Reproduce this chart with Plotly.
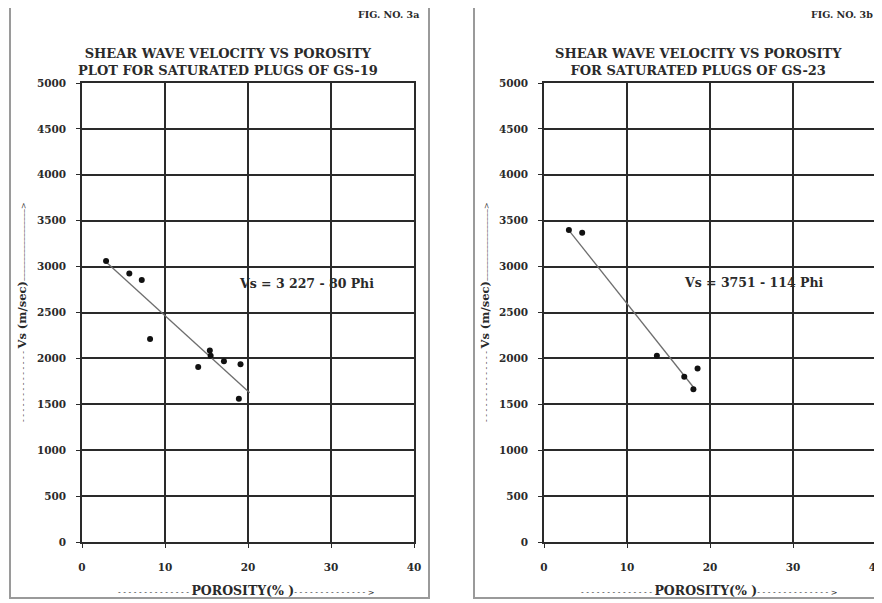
import plotly.graph_objects as go

# ---- data ----
phi_gs19 = [2.9, 5.7, 7.2, 8.2, 14.0, 15.4, 15.5, 17.1, 19.1, 18.9]
vs_gs19 = [3060, 2925, 2855, 2210, 1905, 2085, 2030, 1970, 1935, 1560]
fit19_phi = [2.9, 20.2]
fit19_vs = [3050, 1625]

phi_gs23 = [3.0, 4.6, 13.6, 16.9, 18.0, 18.5]
vs_gs23 = [3400, 3370, 2030, 1800, 1665, 1890]
fit23_phi = [3.0, 18.1]
fit23_vs = [3395, 1675]

x_ticks = [0, 10, 20, 30, 40]
y_ticks = [0, 500, 1000, 1500, 2000, 2500, 3000, 3500, 4000, 4500, 5000]

titles = ["SHEAR WAVE VELOCITY VS POROSITY<br>PLOT FOR SATURATED PLUGS OF GS-19",
          "SHEAR WAVE VELOCITY VS POROSITY<br>FOR SATURATED PLUGS OF GS-23"]
fig_labels = ["FIG. NO. 3a", "FIG. NO. 3b"]
equations = ["Vs = 3 227 - 80 Phi", "Vs = 3751 - 114 Phi"]

OFF = 8  # page body margin
W, H = 882 - OFF, 603 - OFF
FONT = "DejaVu Serif"
DARK = "#2a2a2a"

fig = go.Figure()

fig.add_trace(go.Scatter(x=fit19_phi, y=fit19_vs, mode="lines",
                         line=dict(color="#6e6e6e", width=1.3),
                         xaxis="x", yaxis="y", showlegend=False))
fig.add_trace(go.Scatter(x=phi_gs19, y=vs_gs19, mode="markers",
                         marker=dict(color="#111", size=6),
                         xaxis="x", yaxis="y", showlegend=False))
fig.add_trace(go.Scatter(x=fit23_phi, y=fit23_vs, mode="lines",
                         line=dict(color="#6e6e6e", width=1.3),
                         xaxis="x2", yaxis="y2", showlegend=False))
fig.add_trace(go.Scatter(x=phi_gs23, y=vs_gs23, mode="markers",
                         marker=dict(color="#111", size=6),
                         xaxis="x2", yaxis="y2", showlegend=False))


def px_x(v):
    return (v - OFF) / W


def px_y(v):
    return 1 - (v - OFF) / H


ydom = [px_y(542), px_y(83)]
xdoms = [[px_x(82), px_x(414)], [px_x(544), px_x(876)]]

tickfont = dict(family=FONT, size=10.5, color=DARK)
axis_common = dict(showgrid=True, gridcolor=DARK, gridwidth=1.5,
                   showline=True, linecolor=DARK, linewidth=1.5, mirror=True,
                   ticks="outside", ticklen=4, tickcolor=DARK, tickwidth=1.2,
                   tickfont=tickfont, zeroline=False, fixedrange=True,
                   automargin=False, ticklabeloverflow="allow")

layout = dict(width=W, height=H, margin=dict(l=0, r=0, t=0, b=0),
              paper_bgcolor="white", plot_bgcolor="white", showlegend=False)

for i, (xa, ya) in enumerate([("xaxis", "yaxis"), ("xaxis2", "yaxis2")]):
    anchor_x = "y" if i == 0 else "y2"
    anchor_y = "x" if i == 0 else "x2"
    layout[xa] = dict(domain=xdoms[i], range=[0, 40], tickvals=x_ticks,
                      ticktext=["<b>%d</b>" % t for t in x_ticks], anchor=anchor_x,
                      ticklabelstandoff=11, **axis_common)
    layout[ya] = dict(domain=ydom, range=[0, 5000], tickvals=y_ticks,
                      ticktext=["<b>%d</b>" % t for t in y_ticks], anchor=anchor_y,
                      ticklabelstandoff=8, **axis_common)

fig.update_layout(**layout)

# outer boxes of the two figure panels
fig.add_shape(type="rect", xref="paper", yref="paper",
              x0=px_x(10), x1=px_x(429), y0=px_y(598), y1=px_y(3.5),
              line=dict(color="#9a9a9a", width=2))
fig.add_shape(type="rect", xref="paper", yref="paper",
              x0=px_x(474), x1=px_x(895), y0=px_y(598), y1=px_y(3.5),
              line=dict(color="#9a9a9a", width=2))

DASH = '<span style="font-size:8px;font-weight:normal">%s</span>'
x_title = (DASH % ("- " * 14)) + "<b>POROSITY(% )</b>" + (DASH % ("- " * 14 + "&gt;"))
y_title = (DASH % ("- " * 14)) + "<b>Vs (m/sec)</b>" + (DASH % ("–" * 18 + "&gt;"))

title_cx = [228, 698]
fig_lbl_x = [421, 875]
xt_cx = [246, 709]
yt_x = [22, 485]
eq_x = [27.1, 25.3]
eq_y = [2821, 2830]
for i in range(2):
    fig.add_annotation(xref="paper", yref="paper", x=px_x(title_cx[i]), y=px_y(62),
                       text="<b>" + titles[i] + "</b>", showarrow=False,
                       font=dict(family=FONT, size=13, color=DARK),
                       xanchor="center", yanchor="middle")
    fig.add_annotation(xref="paper", yref="paper", x=px_x(fig_lbl_x[i]), y=px_y(15),
                       text="<b>" + fig_labels[i] + "</b>", showarrow=False,
                       font=dict(family=FONT, size=9.5, color=DARK),
                       xanchor="right", yanchor="middle")
    fig.add_annotation(xref="paper", yref="paper", x=px_x(xt_cx[i]), y=px_y(590),
                       text=x_title, showarrow=False,
                       font=dict(family=FONT, size=12.5, color=DARK),
                       xanchor="center", yanchor="middle")
    fig.add_annotation(xref="paper", yref="paper", x=px_x(yt_x[i]), y=px_y(312),
                       text=y_title, showarrow=False, textangle=-90,
                       font=dict(family=FONT, size=11.5, color=DARK),
                       xanchor="center", yanchor="middle")
    fig.add_annotation(xref="x" if i == 0 else "x2", yref="y" if i == 0 else "y2",
                       x=eq_x[i], y=eq_y[i], text="<b>" + equations[i] + "</b>",
                       showarrow=False,
                       font=dict(family=FONT, size=12.5, color=DARK),
                       xanchor="center", yanchor="middle")

fig.write_html("out.html")
